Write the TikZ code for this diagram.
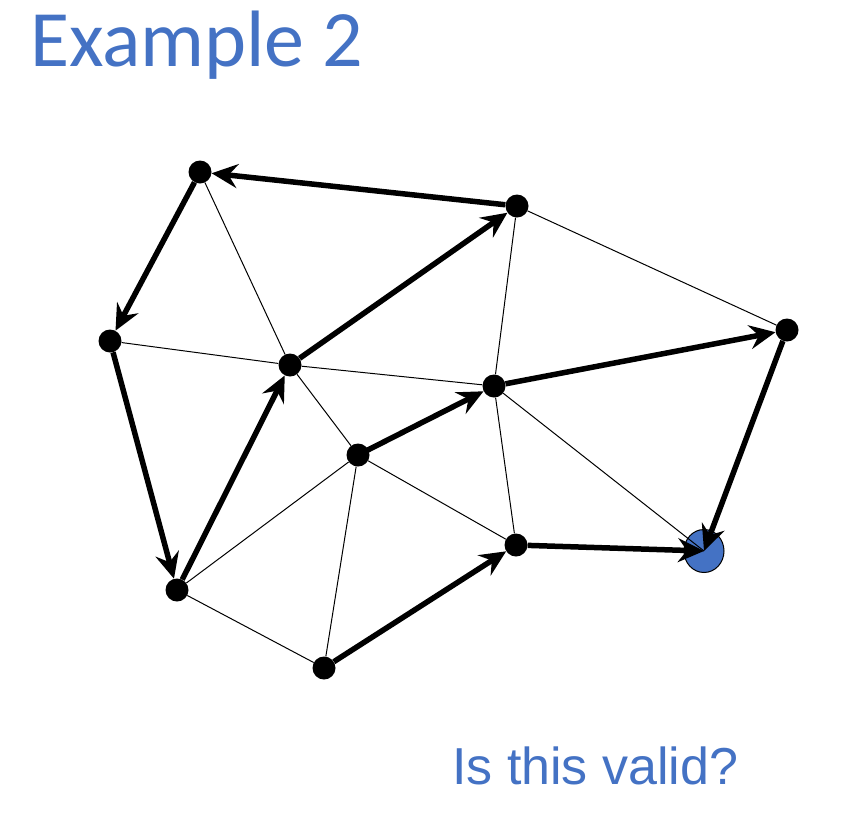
\documentclass[tikz,border=0pt]{standalone}
\usepackage{fontspec}
\newfontfamily\titlefont{Carlito}
\newfontfamily\bodyfont{Liberation Sans}
\usetikzlibrary{arrows.meta,shapes.geometric}
\definecolor{tblue}{HTML}{4472C4}
\begin{document}
\begin{tikzpicture}[x=1pt,y=-1pt,
  dot/.style={circle,fill=black,inner sep=0pt,minimum size=23pt},
  thin edge/.style={line width=1pt},
  thick arrow/.style={line width=5.5pt,-{Stealth[length=26pt,width=24pt,inset=9pt]}},
]
\useasboundingbox (0,0) rectangle (844,812);
\node[anchor=base west,inner sep=0pt,text=tblue,font=\titlefont\fontsize{80}{86}\selectfont] (title) at (30,66) {Example 2};
\node[anchor=base west,inner sep=0pt,text=tblue,font=\bodyfont\fontsize{52}{58}\selectfont] (q) at (452,784) {Is this valid?};

\node[dot] (A) at (200,172) {};
\node[dot] (B) at (517,206) {};
\node[dot] (C) at (110,341) {};
\node[dot] (D) at (290,365) {};
\node[dot] (E) at (787,330) {};
\node[dot] (F) at (494,386) {};
\node[dot] (G) at (358,455) {};
\node[dot] (H) at (516,545) {};
\node[dot] (J) at (177,590) {};
\node[dot] (K) at (324,668) {};
\node[ellipse,draw=black,line width=1pt,fill=tblue,minimum width=40pt,minimum height=43pt,inner sep=0pt] (I) at (704,551) {};

\draw[thin edge] (A) -- (D);
\draw[thin edge] (C) -- (D);
\draw[thin edge] (D) -- (F);
\draw[thin edge] (D) -- (G);
\draw[thin edge] (B) -- (F);
\draw[thin edge] (B) -- (E);
\draw[thin edge] (F) -- (H);
\draw[thin edge] (F) -- (I.center);
\draw[thin edge] (G) -- (J);
\draw[thin edge] (G) -- (K);
\draw[thin edge] (G) -- (H);
\draw[thin edge] (J) -- (K);

\draw[thick arrow] (B) -- (A);
\draw[thick arrow] (A) -- (C);
\draw[thick arrow] (C) -- (J);
\draw[thick arrow] (J) -- (D);
\draw[thick arrow] (D) -- (B);
\draw[thick arrow] (G.center) -- (F);
\draw[thick arrow] (F) -- (E);
\draw[thick arrow] (E) -- (I.center);
\draw[thick arrow] (K) -- (H);
\draw[thick arrow] (H) -- (I.center);
\end{tikzpicture}
\end{document}
